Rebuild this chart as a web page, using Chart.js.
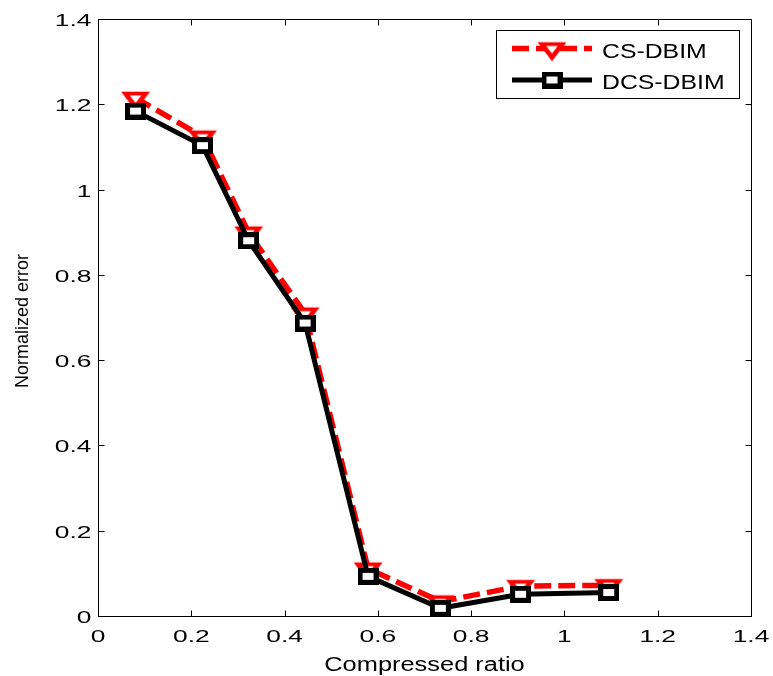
<!DOCTYPE html>
<html>
<head>
<meta charset="utf-8">
<script src="https://cdn.jsdelivr.net/npm/chart.js@4/dist/chart.umd.min.js"></script>
<style>
  html, body { margin: 0; padding: 0; background: #ffffff; }
  #wrap { width: 773px; height: 676px; }
</style>
</head>
<body>
<div id="wrap"><canvas id="c" width="773" height="676"></canvas></div>
<script>
// ---------------- data ----------------
const compressedRatio = [0.0805, 0.224, 0.323, 0.444, 0.579, 0.734, 0.906, 1.095];
const csDbim  = [1.215, 1.124, 0.899, 0.709, 0.111, 0.034, 0.070, 0.072];
const dcsDbim = [1.184, 1.103, 0.880, 0.687, 0.093, 0.018, 0.051, 0.055];
const seriesNames = ['CS-DBIM', 'DCS-DBIM'];
const xTickValues = [0, 0.2, 0.4, 0.6, 0.8, 1, 1.2, 1.4];
const xTickLabels = ['0', '0.2', '0.4', '0.6', '0.8', '1', '1.2', '1.4'];
const yTickValues = [0, 0.2, 0.4, 0.6, 0.8, 1, 1.2, 1.4];
const yTickLabels = ['0', '0.2', '0.4', '0.6', '0.8', '1', '1.2', '1.4'];
const xTitle = 'Compressed ratio';
const yTitle = 'Normalized error';

// ---------------- marker images ----------------
function makeTriangle() {
  const c = document.createElement('canvas');
  c.width = 30; c.height = 26;
  const g = c.getContext('2d');
  const cx = 15, cy = 13, w = 29, h = 19;
  function tri(s, color) {
    g.beginPath();
    g.moveTo(cx - w / 2 * s, cy - h / 3 * s);
    g.lineTo(cx + w / 2 * s, cy - h / 3 * s);
    g.lineTo(cx, cy + 2 * h / 3 * s);
    g.closePath();
    g.fillStyle = color;
    g.fill();
  }
  tri(1, '#ff0000');
  tri(0.4, '#ffffff');
  return c;
}
function makeSquare() {
  const c = document.createElement('canvas');
  c.width = 21; c.height = 17;
  const g = c.getContext('2d');
  g.fillStyle = '#000000';
  g.fillRect(0, 0, 21, 17);
  g.fillStyle = '#ffffff';
  g.fillRect(5, 5, 11, 7);
  return c;
}
const triImg = makeTriangle();
const sqImg = makeSquare();

const FONT = "'Liberation Sans', Arial, Helvetica, sans-serif";

function drawText(ctx, text, x, y, size, sx, align) {
  ctx.save();
  ctx.font = size + 'px ' + FONT;
  ctx.textBaseline = 'alphabetic';
  ctx.textAlign = 'left';
  ctx.fillStyle = '#000000';
  const w = ctx.measureText(text).width * sx;
  let x0 = x;
  if (align === 'center') x0 = x - w / 2;
  else if (align === 'right') x0 = x - w;
  ctx.translate(x0, y);
  ctx.scale(sx, 1);
  ctx.fillText(text, 0, 0);
  ctx.restore();
}

const framePlugin = {
  id: 'frame',
  beforeDatasetsDraw(chart) {
    const ctx = chart.ctx;
    const a = chart.chartArea;
    const xs = chart.scales.x, ys = chart.scales.y;
    const L = Math.round(a.left) + 0.5, R = Math.round(a.right) + 0.5;
    const T = Math.round(a.top) + 0.5, B = Math.round(a.bottom) + 0.5;
    ctx.save();
    ctx.strokeStyle = '#000000';
    ctx.lineWidth = 1;
    ctx.beginPath();
    ctx.rect(L, T, R - L, B - T);
    // inward ticks
    const tl = 6;
    xTickValues.forEach(v => {
      const px = Math.round(xs.getPixelForValue(v)) + 0.5;
      ctx.moveTo(px, B); ctx.lineTo(px, B - tl);
      ctx.moveTo(px, T); ctx.lineTo(px, T + tl);
    });
    yTickValues.forEach(v => {
      const py = Math.round(ys.getPixelForValue(v)) + 0.5;
      ctx.moveTo(L, py); ctx.lineTo(L + tl, py);
      ctx.moveTo(R, py); ctx.lineTo(R - tl, py);
    });
    ctx.stroke();
    ctx.restore();
  },
  afterDraw(chart) {
    const ctx = chart.ctx;
    const a = chart.chartArea;
    const xs = chart.scales.x, ys = chart.scales.y;
    // tick labels
    xTickValues.forEach((v, i) => {
      drawText(ctx, xTickLabels[i], xs.getPixelForValue(v), a.bottom + 26, 17, 1.55, 'center');
    });
    yTickValues.forEach((v, i) => {
      drawText(ctx, yTickLabels[i], a.left - 6.5, ys.getPixelForValue(v) + 7, 17, 1.55, 'right');
    });
    // axis titles
    drawText(ctx, xTitle, (a.left + a.right) / 2, 671, 20, 1.27, 'center');
    ctx.save();
    ctx.translate(28, 321);
    ctx.rotate(-Math.PI / 2);
    ctx.font = '18px ' + FONT;
    ctx.fillStyle = '#000000';
    ctx.textAlign = 'center';
    ctx.textBaseline = 'alphabetic';
    ctx.fillText(yTitle, 0, 0);
    ctx.restore();

    // legend
    ctx.save();
    ctx.fillStyle = '#ffffff';
    ctx.fillRect(496.5, 30.5, 243, 68);
    ctx.strokeStyle = '#000000';
    ctx.lineWidth = 1;
    ctx.strokeRect(496.5, 30.5, 243, 68);
    const ds = chart.data.datasets;
    const rows = [48.5, 80];
    const imgs = [triImg, sqImg];
    ds.forEach((d, i) => {
      const y = rows[i];
      ctx.save();
      ctx.strokeStyle = d.borderColor;
      ctx.lineWidth = d.borderWidth;
      ctx.lineCap = 'butt';
      ctx.setLineDash(d.borderDash || []);
      ctx.beginPath();
      ctx.moveTo(512, y);
      ctx.lineTo(592, y);
      ctx.stroke();
      ctx.restore();
      const im = imgs[i];
      ctx.drawImage(im, 552 - im.width / 2, y - im.height / 2);
      drawText(ctx, d.label, 602, y + 9.3, 20, 1.24, 'left');
    });
    ctx.restore();
  }
};

const ctx = document.getElementById('c').getContext('2d');
new Chart(ctx, {
  type: 'scatter',
  data: {
    datasets: [
      {
        label: seriesNames[0],
        data: compressedRatio.map((x, i) => ({ x: x, y: csDbim[i] })),
        showLine: true,
        borderColor: '#ff0000',
        borderWidth: 5.5,
        borderDash: [17, 7],
        borderCapStyle: 'butt',
        borderJoinStyle: 'round',
        pointStyle: triImg,
        pointRadius: 12,
        order: 1,
        clip: false
      },
      {
        label: seriesNames[1],
        data: compressedRatio.map((x, i) => ({ x: x, y: dcsDbim[i] })),
        showLine: true,
        borderColor: '#000000',
        borderWidth: 5,
        borderJoinStyle: 'round',
        pointStyle: sqImg,
        pointRadius: 10,
        order: 0,
        clip: false
      }
    ]
  },
  options: {
    responsive: false,
    animation: false,
    events: [],
    layout: { padding: { left: 0, right: 22, top: 19, bottom: 0 } },
    plugins: { legend: { display: false }, tooltip: { enabled: false } },
    scales: {
      x: {
        type: 'linear',
        min: 0, max: 1.4,
        grid: { display: false },
        border: { display: false },
        ticks: { display: false, stepSize: 0.2 },
        afterFit(s) { s.height = 60; }
      },
      y: {
        type: 'linear',
        min: 0, max: 1.4,
        grid: { display: false },
        border: { display: false },
        ticks: { display: false, stepSize: 0.2 },
        afterFit(s) { s.width = 98; }
      }
    }
  },
  plugins: [framePlugin]
});
</script>
</body>
</html>
